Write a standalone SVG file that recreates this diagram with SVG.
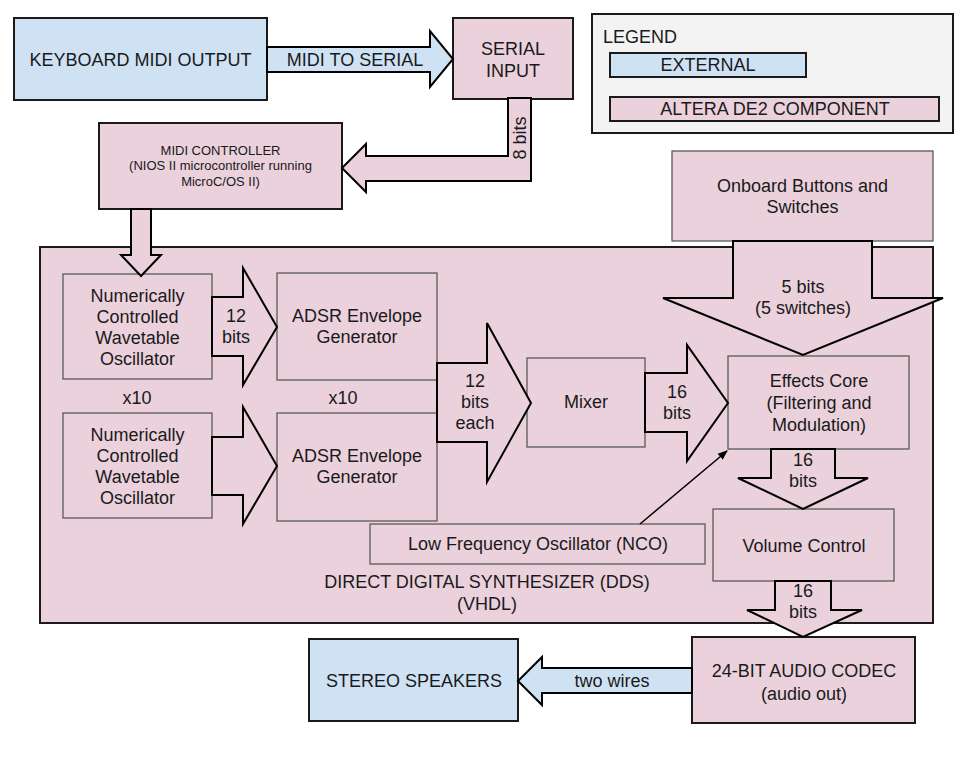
<svg xmlns="http://www.w3.org/2000/svg" width="972" height="774" viewBox="0 0 972 774">
<defs>
<style>
.ext{fill:#cfe2f3;stroke:#1a1a1a;stroke-width:2}
.de2{fill:#ead1dc;stroke:#1a1a1a;stroke-width:2}
.inner{fill:#ead1dc;stroke:#5a5a5a;stroke-width:1.3}
.leg{fill:#f3f3f3;stroke:#1a1a1a;stroke-width:2}
.arrp{fill:#ead1dc;stroke:#000;stroke-width:2;stroke-linejoin:miter}
.arrb{fill:#cfe2f3;stroke:#000;stroke-width:2;stroke-linejoin:miter}
.thin{fill:none;stroke:#000;stroke-width:1.5}
text{font-family:"Liberation Sans",Arial,sans-serif;font-size:18px;fill:#1a1a1a;text-anchor:middle}
.sm{font-size:13px}
</style>
<marker id="ah" markerWidth="10" markerHeight="10" refX="9" refY="5" orient="auto" markerUnits="userSpaceOnUse">
<path d="M0,1 L10,5 L0,9 Z" fill="#000"/>
</marker>
</defs>
<rect width="972" height="774" fill="#ffffff"/>

<g id="legend">
<rect class="leg" x="592" y="14" width="361" height="119"/>
<text x="603" y="43" style="text-anchor:start">LEGEND</text>
<rect class="ext" x="610" y="53" width="196" height="24"/>
<text x="708" y="71">EXTERNAL</text>
<rect class="de2" x="610" y="97" width="329" height="24"/>
<text x="775" y="115">ALTERA DE2 COMPONENT</text>
</g>

<g id="dds">
<rect class="de2" x="40" y="247" width="893" height="376"/>
<text x="487" y="588">DIRECT DIGITAL SYNTHESIZER (DDS)</text>
<text x="487" y="610">(VHDL)</text>
</g>

<g id="keyboard">
<rect class="ext" x="14" y="18" width="253" height="82"/>
<text x="140.5" y="66">KEYBOARD MIDI OUTPUT</text>
</g>

<g id="serial">
<rect class="de2" x="453" y="18" width="120" height="81"/>
<text x="513" y="55">SERIAL</text>
<text x="513" y="77">INPUT</text>
</g>

<g id="midictrl">
<rect class="de2" x="99" y="123" width="243" height="86"/>
<text class="sm" x="220.5" y="155">MIDI CONTROLLER</text>
<text class="sm" x="220.5" y="170">(NIOS II microcontroller running</text>
<text class="sm" x="220.5" y="186">MicroC/OS II)</text>
</g>

<g id="onboard">
<rect class="inner" x="672" y="151" width="261" height="90"/>
<text x="802.5" y="192">Onboard Buttons and</text>
<text x="802.5" y="213">Switches</text>
</g>

<g id="nco1">
<rect class="inner" x="63" y="274" width="149" height="105"/>
<text x="137.5" y="302">Numerically</text>
<text x="137.5" y="323">Controlled</text>
<text x="137.5" y="344">Wavetable</text>
<text x="137.5" y="365">Oscillator</text>
</g>

<g id="nco2">
<rect class="inner" x="63" y="413" width="149" height="105"/>
<text x="137.5" y="441">Numerically</text>
<text x="137.5" y="462">Controlled</text>
<text x="137.5" y="483">Wavetable</text>
<text x="137.5" y="504">Oscillator</text>
</g>

<g id="x10labels">
<text x="137" y="404">x10</text>
<text x="343" y="404">x10</text>
</g>

<g id="adsr1">
<rect class="inner" x="277" y="273" width="160" height="107"/>
<text x="357" y="322">ADSR Envelope</text>
<text x="357" y="343">Generator</text>
</g>

<g id="adsr2">
<rect class="inner" x="277" y="413" width="160" height="108"/>
<text x="357" y="462">ADSR Envelope</text>
<text x="357" y="483">Generator</text>
</g>

<g id="mixer">
<rect class="inner" x="527" y="358" width="118" height="89"/>
<text x="586" y="408">Mixer</text>
</g>

<g id="effects">
<rect class="inner" x="728" y="356" width="181" height="93"/>
<text x="819" y="387">Effects Core</text>
<text x="819" y="409">(Filtering and</text>
<text x="819" y="431">Modulation)</text>
</g>

<g id="lfo">
<rect class="inner" x="370" y="524" width="335" height="40"/>
<text x="538" y="550">Low Frequency Oscillator (NCO)</text>
</g>

<g id="volume">
<rect class="inner" x="713" y="509" width="181" height="72"/>
<text x="804" y="552">Volume Control</text>
</g>

<g id="codec">
<rect class="de2" x="692" y="637" width="223" height="86"/>
<text x="804" y="677">24-BIT AUDIO CODEC</text>
<text x="804" y="700">(audio out)</text>
</g>

<g id="speakers">
<rect class="ext" x="309" y="639" width="209" height="82"/>
<text x="414" y="687">STEREO SPEAKERS</text>
</g>

<g id="connectors">
<polygon class="arrb" points="267,47 430,47 430,31 453,59 430,87 430,72 267,72"/>
<text x="355" y="66">MIDI TO SERIAL</text>

<polygon class="arrp" points="508,98 531,98 531,181 366,181 366,192 342,168 366,144 366,156 508,156"/>
<text transform="translate(526,138) rotate(-90)">8 bits</text>

<polygon class="arrp" points="131,209 151,209 151,255 161,255 141,276 121,255 131,255"/>

<polygon class="arrp" points="733,241 872,241 872,298 943,298 803,355 663,298 733,298"/>
<text x="803" y="293">5 bits</text>
<text x="803" y="314">(5 switches)</text>

<polygon class="arrp" points="212,297 243,297 243,268 277,327 243,385 243,356 212,356"/>
<text x="236" y="322">12</text>
<text x="236" y="343">bits</text>

<polygon class="arrp" points="212,437 243,437 243,407 277,466 243,524 243,495 212,495"/>

<polygon class="arrp" points="437,363 487,363 487,323 531,403 487,482 487,442 437,442"/>
<text x="475" y="387">12</text>
<text x="475" y="408">bits</text>
<text x="475" y="429">each</text>

<polygon class="arrp" points="645,373 687,373 687,345 728,403 687,461 687,432 645,432"/>
<text x="677" y="398">16</text>
<text x="677" y="419">bits</text>

<polygon class="arrp" points="771,449 835,449 835,478 868,478 803,509 738,478 771,478"/>
<text x="803" y="466">16</text>
<text x="803" y="487">bits</text>

<polygon class="arrp" points="775,581 831,581 831,610 862,610 803,637 747,610 775,610"/>
<text x="803" y="597">16</text>
<text x="803" y="618">bits</text>

<polygon class="arrb" points="692,668 542,668 542,657 518,681 542,705 542,693 692,693"/>
<text x="612" y="687">two wires</text>

<line class="thin" x1="640" y1="524" x2="727" y2="451" marker-end="url(#ah)"/>
</g>
</svg>
